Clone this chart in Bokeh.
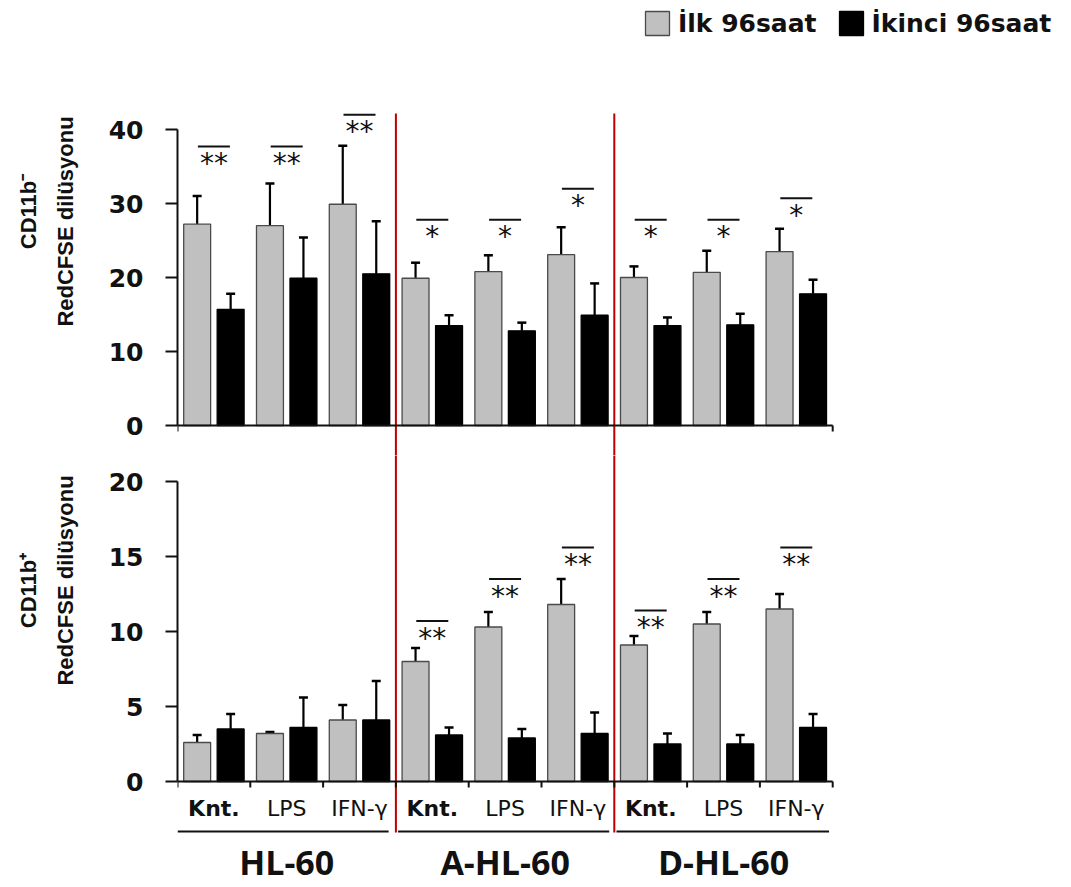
import math
from bokeh.plotting import figure
from bokeh.layouts import column, row
from bokeh.models import (ColumnDataSource, Range1d, FixedTicker, Whisker, TeeHead,
                          Legend, LegendItem)
from bokeh.core.properties import value
from bokeh.embed import file_html
from bokeh.resources import INLINE

# ---- data -------------------------------------------------------------
groups = ["HL-60", "A-HL-60", "D-HL-60"]
treatments = ["Knt.", "LPS", "IFN-γ"]
series_names = ["İlk 96saat", "İkinci 96saat"]
panel_titles = [("CD11b⁻", "RedCFSE dilüsyonu"), ("CD11b⁺", "RedCFSE dilüsyonu")]

# CD11b- RedCFSE dilution
neg_first = [27.2, 27.0, 29.9, 19.9, 20.8, 23.1, 20.0, 20.7, 23.5]
neg_first_sd = [3.8, 5.7, 7.9, 2.1, 2.2, 3.7, 1.5, 2.9, 3.1]
neg_second = [15.7, 19.9, 20.5, 13.5, 12.8, 14.9, 13.5, 13.6, 17.8]
neg_second_sd = [2.1, 5.5, 7.1, 1.4, 1.1, 4.3, 1.1, 1.5, 1.9]
neg_sig_level = [37.7, 37.7, 42.0, 27.8, 27.8, 32.0, 27.8, 27.8, 30.7]
neg_sig_mark = ["**", "**", "**", "*", "*", "*", "*", "*", "*"]

# CD11b+ RedCFSE dilution
pos_first = [2.6, 3.2, 4.1, 8.0, 10.3, 11.8, 9.1, 10.5, 11.5]
pos_first_sd = [0.5, 0.1, 1.0, 0.9, 1.0, 1.7, 0.6, 0.8, 1.0]
pos_second = [3.5, 3.6, 4.1, 3.1, 2.9, 3.2, 2.5, 2.5, 3.6]
pos_second_sd = [1.0, 2.0, 2.6, 0.5, 0.6, 1.4, 0.7, 0.6, 0.9]
pos_sig_level = [None, None, None, 10.7, 13.5, 15.6, 11.4, 13.5, 15.6]
pos_sig_mark = ["", "", "", "**", "**", "**", "**", "**", "**"]

neg_ticks = [0, 10, 20, 30, 40]
pos_ticks = [0, 5, 10, 15, 20]

# ---- layout constants ---------------------------------------------------
W = 1071
H = 887
SIDE_W = 100            # strip holding the rotated y titles
LEFT = 177              # x of the value axes
PLOT_W = W - SIDE_W
FRAME_W = W - LEFT
PX_PER_SLOT = 72.8
X_END = FRAME_W / PX_PER_SLOT
N = len(groups) * len(treatments)
centers = [i + 0.5 for i in range(N)]
BAR_OFF = 0.23
BAR_W = 0.37
GRAY = "#c0c0c0"
EDGE = "#4a4a4a"
RED = "#c00000"
INK = "#111111"


def make_fig(height, y0, y1):
    p = figure(width=PLOT_W, height=height, x_range=Range1d(0, X_END),
               y_range=Range1d(y0, y1), output_backend="svg",
               toolbar_location=None, x_axis_location=None,
               min_border=0, min_border_left=LEFT - SIDE_W)
    p.outline_line_color = None
    p.grid.visible = False
    p.background_fill_color = "white"
    p.border_fill_color = "white"
    ax = p.yaxis[0]
    ax.axis_line_width = 2
    ax.axis_line_color = INK
    ax.major_tick_line_width = 2
    ax.major_tick_line_color = INK
    ax.major_tick_out = 12
    ax.major_tick_in = 0
    ax.minor_tick_line_color = None
    ax.major_label_text_font = "DejaVu Sans"
    ax.major_label_text_font_style = "bold"
    ax.major_label_text_font_size = "25px"
    ax.major_label_text_color = INK
    ax.major_label_standoff = 22
    return p


def draw_panel(p, first, first_sd, second, second_sd, sig_level, sig_mark,
               px_per_unit, tick_xs):
    xs1 = [c - BAR_OFF for c in centers]
    xs2 = [c + BAR_OFF for c in centers]
    s1 = ColumnDataSource(dict(x=xs1, top=first,
                               upper=[m + s for m, s in zip(first, first_sd)]))
    s2 = ColumnDataSource(dict(x=xs2, top=second,
                               upper=[m + s for m, s in zip(second, second_sd)]))
    r1 = p.vbar(x="x", top="top", bottom=0, width=BAR_W, source=s1,
                fill_color=GRAY, line_color=EDGE, line_width=1.3)
    r2 = p.vbar(x="x", top="top", bottom=0, width=BAR_W, source=s2,
                fill_color="black", line_color="black", line_width=1.3)
    for s in (s1, s2):
        p.add_layout(Whisker(source=s, base="x", lower="top", upper="upper",
                             line_color="black", line_width=2.2,
                             lower_head=None,
                             upper_head=TeeHead(size=9, line_width=2.5,
                                                line_color="black")))

    # baseline of the bars and its tick marks
    p.segment(x0=[0], x1=[N], y0=[0], y1=[0], line_color=INK, line_width=2)
    tl = 6 / px_per_unit
    p.segment(x0=tick_xs, x1=tick_xs, y0=[0] * len(tick_xs),
              y1=[-tl] * len(tick_xs), line_color=INK, line_width=2)

    # significance brackets
    sx, sy, st = [], [], []
    for c, lv, mk in zip(centers, sig_level, sig_mark):
        if lv is None or not mk:
            continue
        sx.append(c)
        sy.append(lv)
        st.append(mk)
    half = 16 / PX_PER_SLOT
    p.segment(x0=[x - half for x in sx], x1=[x + half for x in sx],
              y0=sy, y1=sy, line_color=INK, line_width=2)
    p.text(x=sx, y=sy, text=st, text_align="center",
           text_baseline="alphabetic", y_offset=17,
           text_font=value("DejaVu Sans"), text_font_size="28px",
           text_color=INK)
    return r1, r2


# ---- upper panel: CD11b- ----------------------------------------------
TOP_H = 455
top_px = 7.4
top_y0 = (425 - TOP_H) / top_px
top_y1 = 425 / top_px
p1 = make_fig(TOP_H, top_y0, top_y1)
p1.yaxis[0].bounds = (neg_ticks[0], neg_ticks[-1])
p1.yaxis[0].ticker = FixedTicker(ticks=neg_ticks)
p1.segment(x0=[3, 6], x1=[3, 6], y0=[(425 - 113) / top_px] * 2,
           y1=[top_y0 - 1] * 2, line_color=RED, line_width=2)
g1, g2 = draw_panel(p1, neg_first, neg_first_sd, neg_second, neg_second_sd,
                    neg_sig_level, neg_sig_mark, top_px, [0, N])

legend = Legend(items=[LegendItem(label=series_names[0], renderers=[g1]),
                       LegendItem(label=series_names[1], renderers=[g2])],
                orientation="horizontal", location=(465, TOP_H - 38),
                border_line_color=None, background_fill_alpha=0,
                glyph_width=30, glyph_height=30, label_standoff=6,
                spacing=19, padding=0, margin=0,
                label_text_font="DejaVu Sans", label_text_font_style="bold",
                label_text_font_size="25px", label_text_color=INK)
p1.add_layout(legend)

# ---- lower panel: CD11b+ ----------------------------------------------
BOT_H = H - TOP_H
bot_px = 15.0
bot_y0 = (781 - H) / bot_px
bot_y1 = (781 - TOP_H) / bot_px
p2 = make_fig(BOT_H, bot_y0, bot_y1)
p2.yaxis[0].bounds = (pos_ticks[0], pos_ticks[-1])
p2.yaxis[0].ticker = FixedTicker(ticks=pos_ticks)
p2.segment(x0=[3, 6], x1=[3, 6], y0=[bot_y1 + 1] * 2,
           y1=[(781 - 832) / bot_px] * 2, line_color=RED, line_width=2)
draw_panel(p2, pos_first, pos_first_sd, pos_second, pos_second_sd,
           pos_sig_level, pos_sig_mark, bot_px, list(range(N + 1)))

# treatment labels under every bar pair
lab_y = (781 - 808) / bot_px
tt = [treatments[i % 3] for i in range(N)]
knt_x = [x for x, t in zip(centers, tt) if t == treatments[0]]
oth_x = [x for x, t in zip(centers, tt) if t != treatments[0]]
oth_t = [t for t in tt if t != treatments[0]]
p2.text(x=knt_x, y=[lab_y] * len(knt_x), text=[treatments[0]] * len(knt_x),
        text_align="center", text_baseline="alphabetic",
        text_font=value("DejaVu Sans"), text_font_style="bold",
        text_font_size="22px", text_color=INK)
p2.text(x=oth_x, y=[lab_y] * len(oth_x), text=oth_t,
        text_align="center", text_baseline="alphabetic",
        text_font=value("DejaVu Sans"), text_font_size="22px",
        text_color=INK)

# group brackets and names
ul_y = (781 - 831) / bot_px
p2.segment(x0=[0.0, 3.03, 6.03], x1=[2.9, 5.93, 8.95], y0=[ul_y] * 3,
           y1=[ul_y] * 3, line_color=INK, line_width=2)
p2.text(x=[1.5, 4.5, 7.5], y=[(781 - 861) / bot_px] * 3, text=groups,
        text_align="center", text_baseline="alphabetic",
        text_font=value("Open Sans"), text_font_style="bold",
        text_font_size="34px", text_color=INK)

# ---- side strip with the rotated y titles ------------------------------
p0 = figure(width=SIDE_W, height=H, x_range=Range1d(0, SIDE_W),
            y_range=Range1d(H, 0), output_backend="svg",
            toolbar_location=None, x_axis_location=None, y_axis_location=None,
            min_border=0)
p0.outline_line_color = None
p0.grid.visible = False
p0.border_fill_color = "white"
title_x = [28, 65, 28, 65]
title_y = [211, 221, 590, 580]
title_t = [panel_titles[0][0], panel_titles[0][1],
           panel_titles[1][0], panel_titles[1][1]]
p0.text(x=title_x, y=title_y, text=title_t, angle=math.pi / 2,
        text_align="center", text_baseline="middle",
        text_font=value("Liberation Sans"), text_font_style="bold",
        text_font_size="22px", text_color=INK)

layout = row(p0, column(p1, p2, spacing=0), spacing=0)
open("out.html", "w").write(file_html(layout, INLINE))
